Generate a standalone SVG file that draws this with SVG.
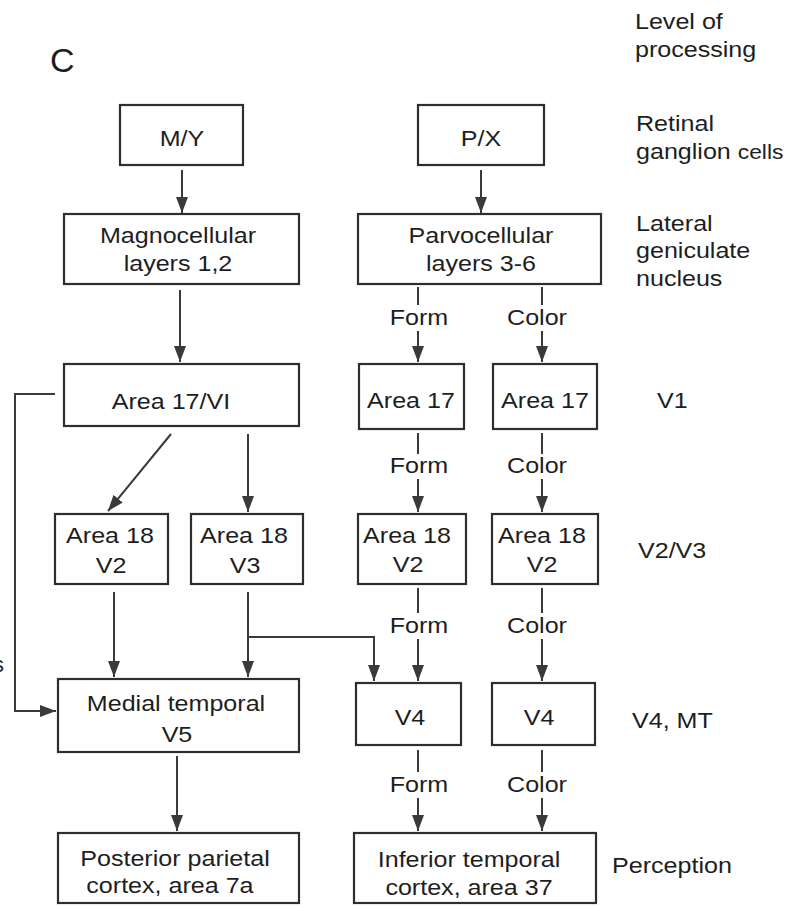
<svg xmlns="http://www.w3.org/2000/svg" width="800" height="906" viewBox="0 0 800 906">
<style>
  text { font-family: "Liberation Sans", Arial, sans-serif; font-size: 22px; fill: #1e1e1e; }
  .c { text-anchor: middle; transform-box: fill-box; transform-origin: center; transform: scaleX(1.14); }
  .l { text-anchor: start; transform-box: fill-box; transform-origin: left; transform: scaleX(1.14); }
  .box { fill: #ffffff; stroke: #2e2e2e; stroke-width: 2.2; }
  .ln { fill: none; stroke: #3a3a3a; stroke-width: 2; }
</style>
<defs>
  <marker id="ah" markerUnits="userSpaceOnUse" markerWidth="16" markerHeight="12" refX="16" refY="6" orient="auto">
    <path d="M0,0 L16,6 L0,12 Z" fill="#3a3a3a"/>
  </marker>
</defs>
<rect width="800" height="906" fill="#ffffff"/>

<text x="50" y="72" style="font-size:34px">C</text>
<text x="4" y="672" text-anchor="end">s</text>

<g id="levels">
  <text class="l" x="635" y="29">Level of</text>
  <text class="l" x="635" y="57">processing</text>
  <text class="l" x="636" y="131">Retinal</text>
  <text class="l" x="636" y="159">ganglion <tspan style="font-size:20px">cells</tspan></text>
  <text class="l" x="636" y="231">Lateral</text>
  <text class="l" x="636" y="258">geniculate</text>
  <text class="l" x="636" y="286">nucleus</text>
  <text class="l" x="657" y="408">V1</text>
  <text class="l" x="638" y="558">V2/V3</text>
  <text class="l" x="632" y="728">V4, MT</text>
  <text class="l" x="612" y="873">Perception</text>
</g>

<g id="connectors">
  <line class="ln" x1="182" y1="170" x2="182" y2="213" marker-end="url(#ah)"/>
  <line class="ln" x1="481" y1="170" x2="481" y2="213" marker-end="url(#ah)"/>
  <line class="ln" x1="180" y1="290" x2="180" y2="362" marker-end="url(#ah)"/>
  <!-- parvo Form/Color row 1 -->
  <line class="ln" x1="418" y1="287" x2="418" y2="305"/>
  <line class="ln" x1="418" y1="331" x2="418" y2="362" marker-end="url(#ah)"/>
  <line class="ln" x1="542" y1="287" x2="542" y2="305"/>
  <line class="ln" x1="542" y1="331" x2="542" y2="362" marker-end="url(#ah)"/>
  <!-- row 2 -->
  <line class="ln" x1="418" y1="433" x2="418" y2="454"/>
  <line class="ln" x1="418" y1="479" x2="418" y2="512" marker-end="url(#ah)"/>
  <line class="ln" x1="542" y1="433" x2="542" y2="454"/>
  <line class="ln" x1="542" y1="479" x2="542" y2="512" marker-end="url(#ah)"/>
  <!-- row 3 -->
  <line class="ln" x1="418" y1="588" x2="418" y2="613"/>
  <line class="ln" x1="418" y1="639" x2="418" y2="681" marker-end="url(#ah)"/>
  <line class="ln" x1="542" y1="588" x2="542" y2="613"/>
  <line class="ln" x1="542" y1="639" x2="542" y2="681" marker-end="url(#ah)"/>
  <!-- row 4 -->
  <line class="ln" x1="418" y1="750" x2="418" y2="772"/>
  <line class="ln" x1="418" y1="798" x2="418" y2="831" marker-end="url(#ah)"/>
  <line class="ln" x1="542" y1="750" x2="542" y2="772"/>
  <line class="ln" x1="542" y1="798" x2="542" y2="831" marker-end="url(#ah)"/>
  <!-- magno path -->
  <line class="ln" x1="171" y1="434" x2="108" y2="511" marker-end="url(#ah)"/>
  <line class="ln" x1="248" y1="434" x2="248" y2="512" marker-end="url(#ah)"/>
  <line class="ln" x1="114" y1="592" x2="114" y2="677" marker-end="url(#ah)"/>
  <line class="ln" x1="248" y1="592" x2="248" y2="677" marker-end="url(#ah)"/>
  <path class="ln" d="M248,637 H374 V681" marker-end="url(#ah)"/>
  <path class="ln" d="M55,394 H15 V711 H56" marker-end="url(#ah)"/>
  <line class="ln" x1="177" y1="756" x2="177" y2="831" marker-end="url(#ah)"/>
</g>

<g id="n-my"><rect class="box" x="120" y="105" width="123" height="60"/><text class="c" x="182" y="146">M/Y</text></g>
<g id="n-px"><rect class="box" x="418" y="105" width="126" height="60"/><text class="c" x="481" y="146">P/X</text></g>
<g id="n-magno"><rect class="box" x="64" y="214" width="235" height="70"/><text class="c" x="178" y="243">Magnocellular</text><text class="c" x="178" y="271">layers 1,2</text></g>
<g id="n-parvo"><rect class="box" x="358" y="214" width="243" height="70"/><text class="c" x="481" y="243">Parvocellular</text><text class="c" x="481" y="271">layers 3-6</text></g>

<g id="lbl-form1"><text class="c" x="419" y="325">Form</text></g>
<g id="lbl-color1"><text class="c" x="537" y="325">Color</text></g>
<g id="lbl-form2"><text class="c" x="419" y="473">Form</text></g>
<g id="lbl-color2"><text class="c" x="537" y="473">Color</text></g>
<g id="lbl-form3"><text class="c" x="419" y="633">Form</text></g>
<g id="lbl-color3"><text class="c" x="537" y="633">Color</text></g>
<g id="lbl-form4"><text class="c" x="419" y="792">Form</text></g>
<g id="lbl-color4"><text class="c" x="537" y="792">Color</text></g>

<g id="n-a17vi"><rect class="box" x="64" y="364" width="235" height="62"/><text class="c" x="171" y="409">Area 17/VI</text></g>
<g id="n-a17f"><rect class="box" x="359" y="364" width="105" height="65"/><text class="c" x="411" y="408">Area 17</text></g>
<g id="n-a17c"><rect class="box" x="493" y="364" width="104" height="65"/><text class="c" x="545" y="408">Area 17</text></g>

<g id="n-a18v2m"><rect class="box" x="55" y="514" width="113" height="70"/><text class="c" x="110" y="543">Area 18</text><text class="c" x="111" y="573">V2</text></g>
<g id="n-a18v3"><rect class="box" x="191" y="514" width="112" height="70"/><text class="c" x="244" y="543">Area 18</text><text class="c" x="245" y="573">V3</text></g>
<g id="n-a18v2f"><rect class="box" x="358" y="514" width="108" height="70"/><text class="c" x="407" y="543">Area 18</text><text class="c" x="408" y="572">V2</text></g>
<g id="n-a18v2c"><rect class="box" x="492" y="514" width="106" height="70"/><text class="c" x="542" y="543">Area 18</text><text class="c" x="542" y="572">V2</text></g>

<g id="n-mt"><rect class="box" x="58" y="679" width="241" height="73"/><text class="c" x="176" y="711">Medial temporal</text><text class="c" x="177" y="742">V5</text></g>
<g id="n-v4f"><rect class="box" x="356" y="683" width="105" height="62"/><text class="c" x="410" y="725">V4</text></g>
<g id="n-v4c"><rect class="box" x="492" y="683" width="103" height="62"/><text class="c" x="539" y="725">V4</text></g>

<g id="n-ppc"><rect class="box" x="58" y="833" width="241" height="70"/><text class="c" x="175" y="866">Posterior parietal</text><text class="c" x="170" y="893">cortex, area 7a</text></g>
<g id="n-it"><rect class="box" x="354" y="833" width="242" height="70"/><text class="c" x="469" y="867">Inferior temporal</text><text class="c" x="469" y="895">cortex, area 37</text></g>
</svg>
